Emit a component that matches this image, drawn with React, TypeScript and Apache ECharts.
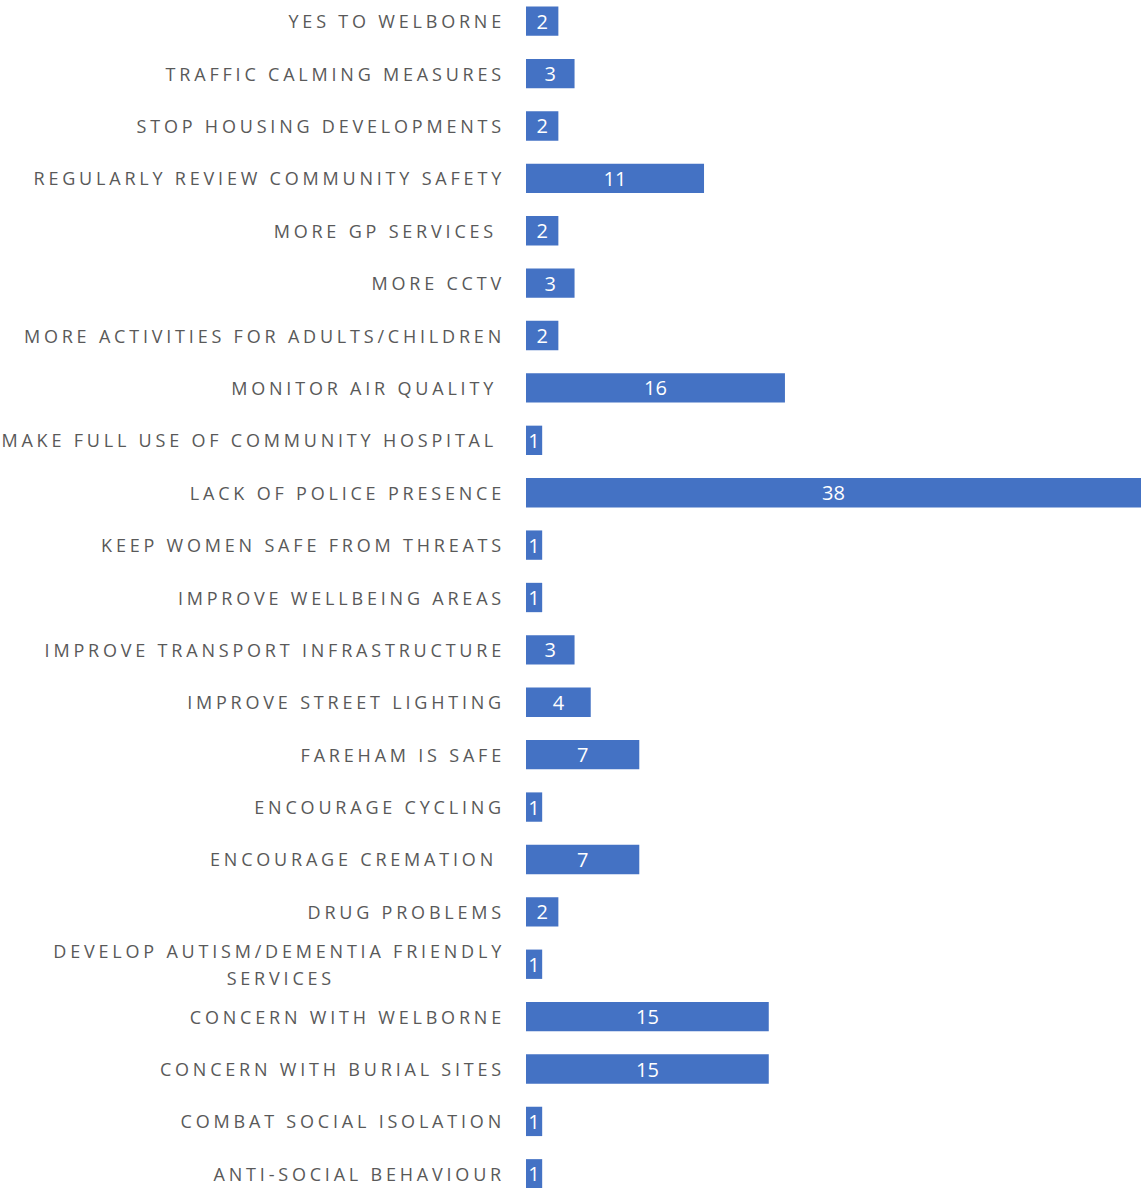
import React, { useEffect, useRef } from "react";
import * as echarts from "echarts";

// Categories from top to bottom (a trailing space is kept where the source label has one)
const categories: string[] = [
  "YES TO WELBORNE",
  "TRAFFIC CALMING MEASURES",
  "STOP HOUSING DEVELOPMENTS",
  "REGULARLY REVIEW COMMUNITY SAFETY",
  "MORE GP SERVICES ",
  "MORE CCTV",
  "MORE ACTIVITIES FOR ADULTS/CHILDREN",
  "MONITOR AIR QUALITY ",
  "MAKE FULL USE OF COMMUNITY HOSPITAL ",
  "LACK OF POLICE PRESENCE",
  "KEEP WOMEN SAFE FROM THREATS",
  "IMPROVE WELLBEING AREAS",
  "IMPROVE TRANSPORT INFRASTRUCTURE",
  "IMPROVE STREET LIGHTING",
  "FAREHAM IS SAFE",
  "ENCOURAGE CYCLING",
  "ENCOURAGE CREMATION ",
  "DRUG PROBLEMS",
  "DEVELOP AUTISM/DEMENTIA FRIENDLY SERVICES",
  "CONCERN WITH WELBORNE",
  "CONCERN WITH BURIAL SITES",
  "COMBAT SOCIAL ISOLATION",
  "ANTI-SOCIAL BEHAVIOUR",
];

const counts: number[] = [
  2, 3, 2, 11, 2, 3, 2, 16, 1, 38, 1, 1, 3, 4, 7, 1, 7, 2, 1, 15, 15, 1, 1,
];

const LABEL_COLOR = "#595959";
const BAR_COLOR = "#4472C4";
const FONT = "'Open Sans', 'Noto Sans', sans-serif";

export default function App() {
  const ref = useRef<HTMLDivElement>(null);

  useEffect(() => {
    if (!ref.current) return;
    const chart = echarts.init(ref.current, undefined, { renderer: "svg" });
    const baseText = {
      fontFamily: FONT,
      fontSize: 18,
      color: LABEL_COLOR,
    };
    chart.setOption({
      animation: false,
      backgroundColor: "#ffffff",
      grid: { left: 526, right: 0, top: 0, bottom: 0, containLabel: false },
      xAxis: {
        type: "value",
        min: 0,
        max: 38,
        show: false,
      },
      yAxis: {
        type: "category",
        inverse: true,
        data: categories,
        axisLine: { show: false },
        axisTick: { show: false },
        splitLine: { show: false },
        axisLabel: {
          ...baseText,
          margin: 21,
          interval: 0,
          formatter: (v: string) => {
            if (v === "DEVELOP AUTISM/DEMENTIA FRIENDLY SERVICES") {
              return "{a|DEVELOP AUTISM/DEMENTIA FRIENDLY}\n{b|SERVICES}";
            }
            if (v.endsWith(" ")) {
              return "{s|" + v.trim() + "}";
            }
            return v;
          },
          rich: {
            a: { ...baseText, lineHeight: 27 },
            b: { ...baseText, lineHeight: 27, padding: [0, 170, 0, 0] },
            s: { ...baseText, padding: [0, 8, 0, 0] },
          },
        },
      },
      series: [
        {
          type: "bar",
          data: counts,
          barCategoryGap: "44%",
          itemStyle: { color: BAR_COLOR },
          label: {
            show: true,
            position: "inside",
            color: "#ffffff",
            fontFamily: FONT,
            fontSize: 20,
          },
        },
      ],
    });
    return () => chart.dispose();
  }, []);

  return (
    <>
      <style>{`#chart text[fill="${LABEL_COLOR}"], #chart text[fill="rgb(89,89,89)"] { letter-spacing: 3.8px; }`}</style>
      <div
        id="chart"
        ref={ref}
        style={{
          position: "fixed",
          left: 0,
          top: -4.7,
          width: 1141,
          height: 1204.9,
          background: "#ffffff",
        }}
      />
    </>
  );
}
